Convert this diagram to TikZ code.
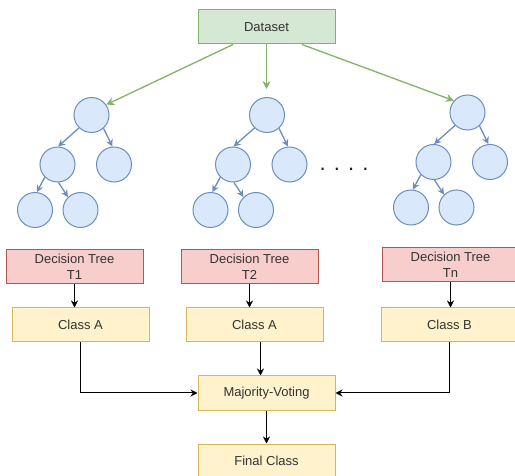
\documentclass[tikz,border=0pt]{standalone}
\usepackage{fontspec}
\setmainfont{Liberation Sans}
\usetikzlibrary{arrows.meta,calc}
\definecolor{gfill}{HTML}{D5E8D4}\definecolor{gline}{HTML}{82B366}
\definecolor{bfill}{HTML}{DAE8FC}\definecolor{bline}{HTML}{6C8EBF}
\definecolor{rfill}{HTML}{F8CECC}\definecolor{rline}{HTML}{B85450}
\definecolor{yfill}{HTML}{FFF2CC}\definecolor{yline}{HTML}{D6B656}
\definecolor{txt}{HTML}{333333}
\definecolor{dotc}{HTML}{1C1C2C}
\newcommand\mytree[3]{%
  \begin{scope}[shift={(#2,#3)}]
    \node[tn] (#1r) at (0,0) {};
    \node[tn] (#1l) at (-34,49.5) {};
    \node[tn] (#1c) at (22.5,49.5) {};
    \node[tn] (#1a) at (-56.5,95) {};
    \node[tn] (#1b) at (-11,95) {};
  \end{scope}
  \draw[tedge] (#1r.-134) -- (#1l.88);
  \draw[tedge] (#1r.-48) -- (#1c.95);
  \draw[tedge] (#1l.-135) -- (#1a.84);
  \draw[tedge] (#1l.-87) -- (#1b.134);
}
\begin{document}
\begin{tikzpicture}[x=1pt,y=-1pt,
  box/.style={draw, line width=1pt, minimum width=137pt, minimum height=34pt, inner sep=0pt, text=txt, align=center, font=\fontsize{13}{16}\selectfont},
  gbox/.style={box, fill=gfill, draw=gline},
  rbox/.style={box, fill=rfill, draw=rline},
  ybox/.style={box, fill=yfill, draw=yline},
  tn/.style={circle, draw=bline, fill=bfill, line width=1pt, minimum size=35pt, inner sep=0pt},
  tedge/.style={draw=bline, line width=1.3pt, -{Stealth[length=7pt,width=7pt]}},
  gedge/.style={draw=gline, line width=1.3pt, -{Stealth[length=8pt,width=8pt]}},
  kedge/.style={draw=black, line width=1pt, -{Stealth[length=7pt,width=7pt]}}]
\useasboundingbox (0,0) rectangle (515,476);
\clip (0,0) rectangle (515,476);
\fill[white] (0,0) rectangle (515,476);

\node[gbox] (ds) at (266.5,27) {Dataset};

\mytree{t1}{91.5}{115}
\mytree{t2}{267}{115}
\mytree{t3}{467.5}{112.5}

\draw[gedge] ([xshift=-33.5pt]ds.south) -- (t1r.35);
\draw[gedge, shorten >=8pt] (ds.south) -- (ds.south |- t2r.north);
\draw[gedge] ([xshift=35.5pt]ds.south) -- (t3r.139);

\node[text=dotc, font=\fontsize{22}{22}\selectfont, inner sep=0pt] (dots) at (344,169) {. . . .};

\node[rbox] (d1) at (74.5,267) {Decision Tree\\T1};
\node[rbox] (d2) at (249.5,267) {Decision Tree\\T2};
\node[rbox] (dn) at (450.5,265) {Decision Tree\\Tn};
\node[ybox] (a1) at (80.5,325) {Class A};
\node[ybox] (a2) at (254.5,325) {Class A};
\node[ybox] (cb) at (449.5,325) {Class B};
\node[ybox] (mv) at (266.5,393) {Majority-Voting};
\node[ybox] (fc) at (266.5,461) {Final Class};

\draw[kedge] (d1.south) -- (d1.south |- a1.north);
\draw[kedge] (d2.south) -- (d2.south |- a2.north);
\draw[kedge] (dn.south) -- (dn.south |- cb.north);
\draw[kedge] (a1.south) |- (mv.west);
\draw[kedge] ([xshift=6pt]a2.south) -- ([xshift=6pt]a2.south |- mv.north);
\draw[kedge] (cb.south) |- (mv.east);
\draw[kedge] (mv.south) -- (fc.north);
\end{tikzpicture}
\end{document}
